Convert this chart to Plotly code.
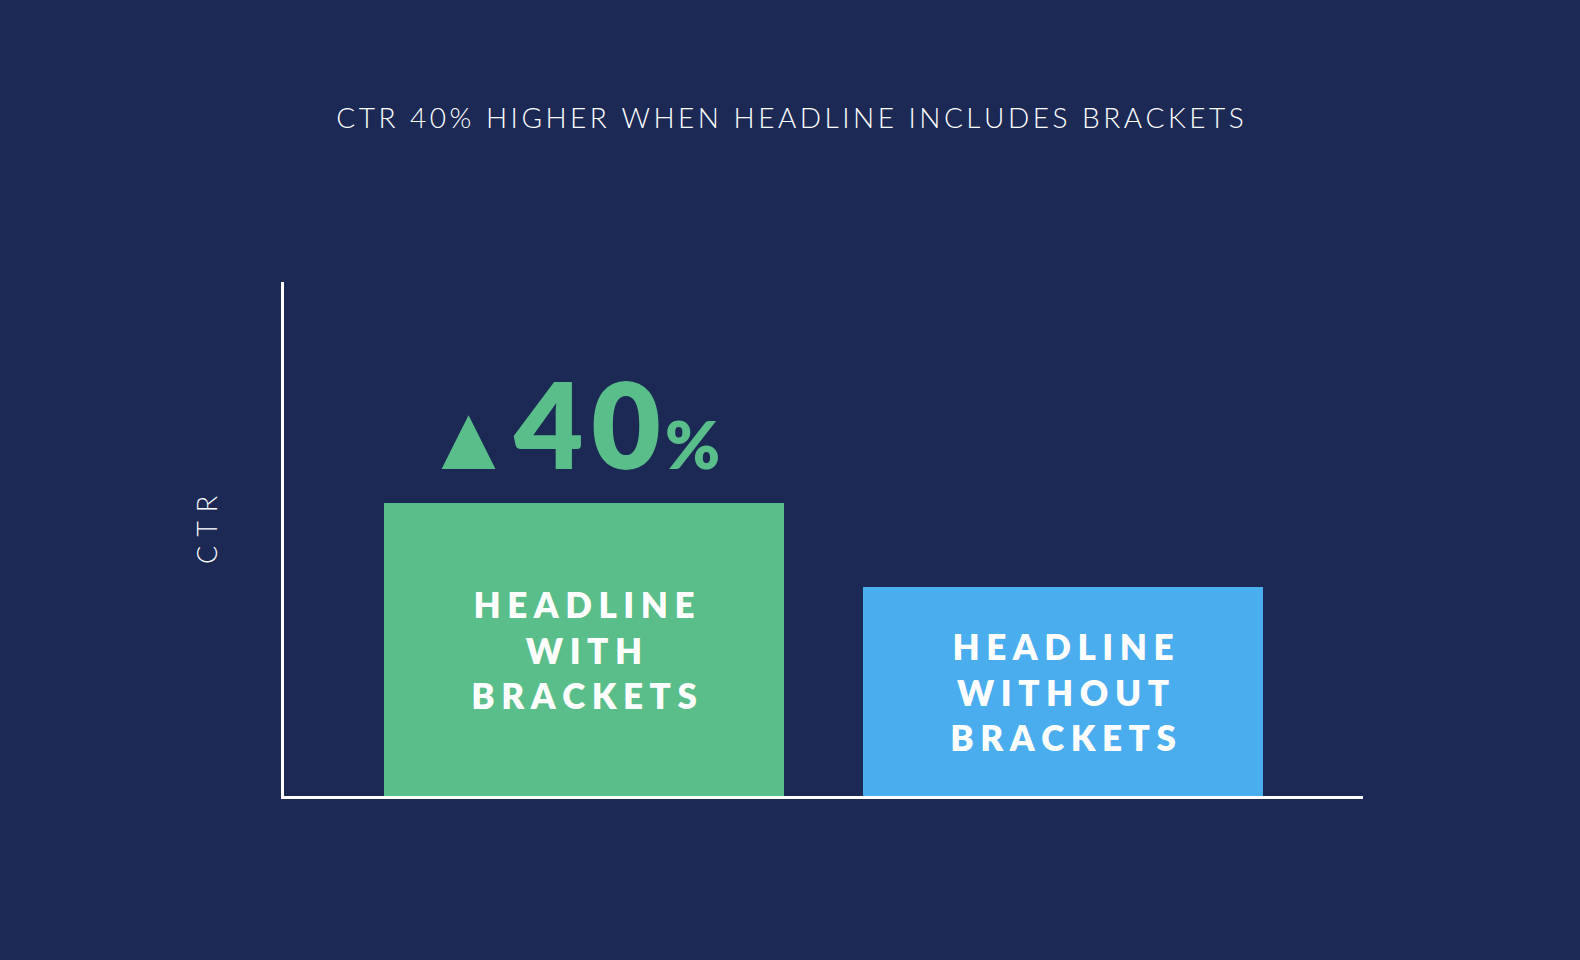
import plotly.graph_objects as go

# data
categories = ["Headline with brackets", "Headline without brackets"]
ctr_values = [1.4, 1.0]
bar_labels = [["HEADLINE", "WITH", "BRACKETS"], ["HEADLINE", "WITHOUT", "BRACKETS"]]
bar_colors = ["#5ABE8A", "#4AADEE"]
title_text = "CTR 40% HIGHER WHEN HEADLINE INCLUDES BRACKETS"
axis_title = "CTR"
lift_text = "40"

BG = "#1B2954"


def spaced(s, sp="\u2009"):
    # plotly has no letter-spacing, so pad glyphs with thin spaces
    return (sp + " " + sp).join(sp.join(w) for w in s.split(" "))


texts = ["<br>".join(spaced(w, "\u2009\u200a") for w in lines) for lines in bar_labels]

fig = go.Figure()
fig.add_trace(go.Bar(
    x=categories, y=ctr_values, width=0.834,
    marker=dict(color=bar_colors, line=dict(width=0)),
    text=texts, textposition="inside", insidetextanchor="middle",
    textangle=0, constraintext="none",
    insidetextfont=dict(family="Lato", size=35, color="white", weight=800),
    hoverinfo="skip",
))

fig.add_annotation(
    x=categories[0], y=ctr_values[0], xref="x", yref="y",
    yanchor="bottom", xanchor="center", yshift=6, xshift=-12, showarrow=False,
    text="<span style='font-size:92px'>▲</span>"
         + "<span style='font-size:120px'>" + "\u200a".join(lift_text) + "</span>"
         + "<span style='font-size:66px'>\u200a%</span>",
    font=dict(family="Lato", color=bar_colors[0], weight=800),
)

fig.add_annotation(
    x=0, y=0.5, xref="paper", yref="paper", xanchor="center", yanchor="middle",
    xshift=-78, yshift=9, textangle=-90, showarrow=False,
    text=spaced(axis_title, "\u2004"),
    font=dict(family="Lato", size=27, color="white", weight=300),
)

fig.update_layout(
    width=1580, height=960,
    paper_bgcolor=BG, plot_bgcolor=BG,
    margin=dict(l=284, r=217, t=282, b=164),
    showlegend=False,
    title=dict(text=spaced(title_text), x=0.5, xanchor="center", y=0.877, yanchor="middle",
               font=dict(family="Lato", size=28, color="white", weight=300)),
    bargap=0,
)
fig.update_xaxes(range=[-0.625, 1.625], showticklabels=False, ticks="",
                 showline=True, linecolor="white", linewidth=3, showgrid=False, zeroline=False)
fig.update_yaxes(range=[0, 2.46], showticklabels=False, ticks="",
                 showline=True, linecolor="white", linewidth=3, showgrid=False, zeroline=False)

fig.write_html("out.html", config={"displayModeBar": False},
               post_script="document.body.style.margin='0';"
               "document.body.style.background='" + BG + "';")
